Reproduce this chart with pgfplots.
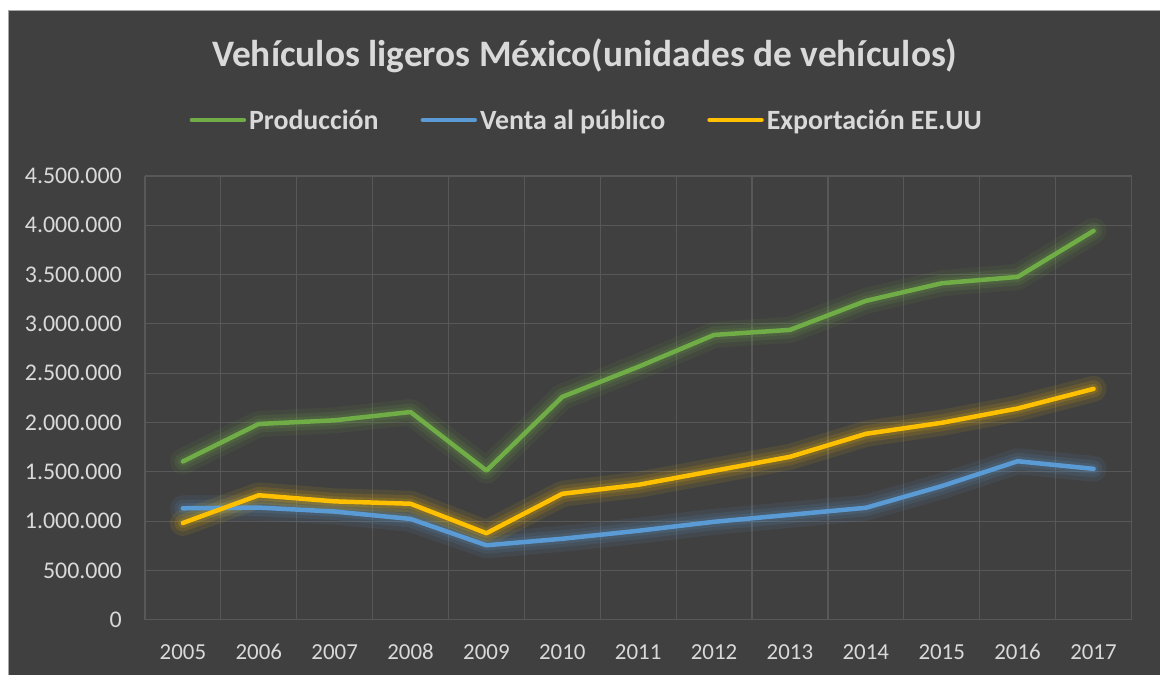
\documentclass[border=0pt]{standalone}
\usepackage{pgfplots}
\pgfplotsset{compat=1.18}
\usepackage{pgfplotstable}
\usepackage{fontspec}
\setmainfont{Carlito}
\definecolor{bg}{HTML}{404040}
\definecolor{txt}{HTML}{D9D9D9}
\definecolor{gridc}{HTML}{585858}
\definecolor{cgreen}{HTML}{70AD47}
\definecolor{cblue}{HTML}{5B9BD5}
\definecolor{cyellow}{HTML}{FFC000}
\pgfplotstableread{
year prod venta export
2005 1605000 1130000 981000
2006 1985000 1137000 1262000
2007 2022000 1097000 1200000
2008 2106000 1022000 1176000
2009 1512000 755000 877000
2010 2260000 821000 1277000
2011 2564000 902000 1368000
2012 2888000 993000 1510000
2013 2939000 1064000 1652000
2014 3233000 1135000 1885000
2015 3412000 1355000 1997000
2016 3476000 1607000 2142000
2017 3943000 1530000 2341000
}\datatable
\pgfplotsset{
  glowA/.style={forget plot,opacity=0.09,line width=26bp,line join=round,line cap=round},
  glowB/.style={forget plot,opacity=0.12,line width=17bp,line join=round,line cap=round},
  glowC/.style={forget plot,opacity=0.15,line width=10bp,line join=round,line cap=round},
  mainline/.style={line width=4.5bp,line join=round,line cap=round},
}
\begin{document}
\begin{tikzpicture}[x=1bp,y=1bp]
\fill[white] (0,0) rectangle (1160,675);
\fill[bg] (9,0) rectangle (1160,664);
\draw[gray!70,line width=1bp] (9,0) -- (9,664) -- (1160,664);
\node[anchor=base,text=txt,font=\fontsize{37.5}{42}\selectfont\bfseries] at (585,608) {Vehículos ligeros México(unidades de vehículos)};
\begin{axis}[
  at={(145bp,55bp)}, anchor=south west,
  width=987bp, height=444bp, scale only axis,
  xmin=2004.5, xmax=2017.5, ymin=0, ymax=4500000,
  xtick={2005,...,2017},
  minor xtick={2004.5,2005.5,...,2017.5},
  ytick={0,500000,...,4500000},
  xminorgrids, ymajorgrids,
  major grid style={draw=gridc,line width=1.2bp},
  minor grid style={draw=gridc,line width=1.2bp},
  major tick length=0pt, minor tick length=0pt,
  axis line style={draw=none},
  scaled y ticks=false,
  /pgf/number format/assume math mode=true,
  ticklabel style={text=txt},
  xticklabel style={font=\fontsize{23}{27}\selectfont, /pgf/number format/1000 sep={}, anchor=base, inner sep=0pt, yshift=-40bp},
  yticklabel style={font=\fontsize{24}{28}\selectfont, /pgf/number format/.cd, fixed, 1000 sep={.}, /tikz/.cd, anchor=east, inner sep=0pt, xshift=-23bp},
  legend style={draw=none, fill=none, text=txt, font=\fontsize{28}{32}\selectfont\bfseries,
    at={(axis description cs:0.4478,1.126)}, anchor=center,
    legend columns=3,
    /tikz/every even column/.append style={column sep=40bp},
    /tikz/every odd column/.append style={column sep=1bp},
    legend cell align=left},
  legend image code/.code={\draw[line width=4.5bp,line cap=round] (0bp,0bp) -- (52bp,0bp);},
]
\addplot[glowA,cgreen] table[x=year,y=prod]{\datatable};
\addplot[glowB,cgreen] table[x=year,y=prod]{\datatable};
\addplot[glowC,cgreen] table[x=year,y=prod]{\datatable};
\addplot[glowA,cblue] table[x=year,y=venta]{\datatable};
\addplot[glowB,cblue] table[x=year,y=venta]{\datatable};
\addplot[glowC,cblue] table[x=year,y=venta]{\datatable};
\addplot[glowA,cyellow] table[x=year,y=export]{\datatable};
\addplot[glowB,cyellow] table[x=year,y=export]{\datatable};
\addplot[glowC,cyellow] table[x=year,y=export]{\datatable};
\addplot[mainline,cgreen] table[x=year,y=prod]{\datatable};
\addlegendentry{Producción}
\addplot[mainline,cblue] table[x=year,y=venta]{\datatable};
\addlegendentry{Venta al público}
\addplot[mainline,cyellow] table[x=year,y=export]{\datatable};
\addlegendentry{Exportación EE.UU}
\end{axis}
\end{tikzpicture}
\end{document}
